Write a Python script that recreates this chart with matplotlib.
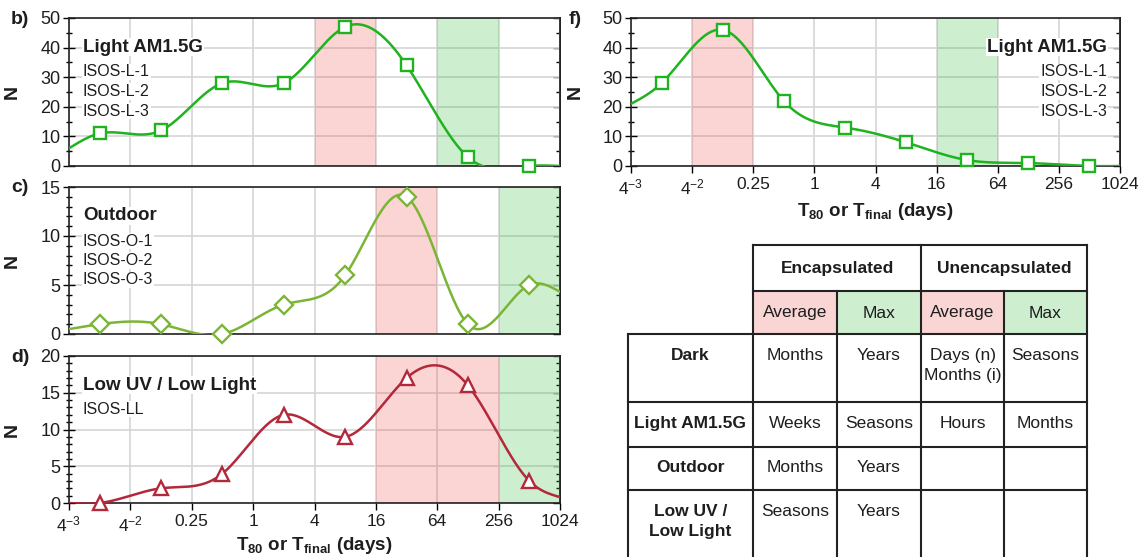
import numpy as np
import matplotlib
matplotlib.use('Agg')
import matplotlib.pyplot as plt
from matplotlib.ticker import MultipleLocator, FixedLocator, NullLocator

plt.rcParams['font.family'] = ['Liberation Sans', 'DejaVu Sans']
plt.rcParams['mathtext.fontset'] = 'custom'
plt.rcParams['mathtext.rm'] = 'Liberation Sans'
plt.rcParams['mathtext.bf'] = 'Liberation Sans:bold'
plt.rcParams['mathtext.it'] = 'Liberation Sans:italic'

# ---------------- data ----------------
bin_exp = [-2.5, -1.5, -0.5, 0.5, 1.5, 2.5, 3.5, 4.5]   # log4 of bin centres (days)
light_N = [11, 12, 28, 28, 47, 34, 3, 0]
outdoor_N = [1, 1, 0, 3, 6, 14, 1, 5]
lowuv_N = [0, 2, 4, 12, 9, 17, 16, 3]
unenc_light_N = [28, 46, 22, 13, 8, 2, 1, 0]
# curve values at the axis edges (4^-3 and 4^5)
light_edge = [6, 0]
outdoor_edge = [0.5, 4.3]
lowuv_edge = [0, 0.8]
unenc_edge = [21, 0]

xtick_exp = [-3, -2, -1, 0, 1, 2, 3, 4, 5]
xtick_labels = [r'$\mathregular{4^{-3}}$', r'$\mathregular{4^{-2}}$', '0.25', '1', '4', '16', '64', '256', '1024']

table_cols = ['Encapsulated', 'Unencapsulated']
table_sub = ['Average', 'Max', 'Average', 'Max']
table_rows = ['Dark', 'Light AM1.5G', 'Outdoor', 'Low UV /\nLow Light']
table_cells = [['Months', 'Years', 'Days (n)\nMonths (i)', 'Seasons'],
               ['Weeks', 'Seasons', 'Hours', 'Months'],
               ['Months', 'Years', '', ''],
               ['Seasons', 'Years', '', '']]

W, H = 1147, 557
fig = plt.figure(figsize=(W / 100, H / 100), dpi=100)


def rect(l, t, r, b):
    return [l / W, 1 - b / H, (r - l) / W, (b - t) / H]


def natural_spline(xk, yk, xs):
    xk = np.asarray(xk, float); yk = np.asarray(yk, float)
    n = len(xk); h = np.diff(xk)
    A = np.zeros((n, n)); rhs = np.zeros(n)
    A[0, 0] = 1; A[-1, -1] = 1
    for i in range(1, n - 1):
        A[i, i - 1] = h[i - 1]; A[i, i] = 2 * (h[i - 1] + h[i]); A[i, i + 1] = h[i]
        rhs[i] = 6 * ((yk[i + 1] - yk[i]) / h[i] - (yk[i] - yk[i - 1]) / h[i - 1])
    M = np.linalg.solve(A, rhs)
    idx = np.clip(np.searchsorted(xk, xs) - 1, 0, n - 2)
    x0, x1 = xk[idx], xk[idx + 1]; hh = x1 - x0
    return (M[idx] * (x1 - xs) ** 3 / (6 * hh) + M[idx + 1] * (xs - x0) ** 3 / (6 * hh)
            + (yk[idx] / hh - M[idx] * hh / 6) * (x1 - xs)
            + (yk[idx + 1] / hh - M[idx + 1] * hh / 6) * (xs - x0))


RED = '#e8302a'
GREEN = '#2ebd3a'
TXT = '#1e1e1e'


def panel(r, vals, edges, color, marker, ms, ymax, ymaj, ymin, red, green, showx):
    ax = fig.add_axes(rect(*r))
    ax.set_xscale('log', base=4)
    ax.set_xlim(4.0 ** -3, 4.0 ** 5)
    ax.set_ylim(0, ymax)
    ax.set_axisbelow(True)
    ax.grid(True, which='major', color='#d6d6d6', lw=1.2)
    ax.axvspan(4.0 ** red[0], 4.0 ** red[1], color=RED, alpha=0.2, lw=0, zorder=1)
    ax.axvspan(4.0 ** green[0], 4.0 ** green[1], color=GREEN, alpha=0.24, lw=0, zorder=1)
    u = np.array([-3] + bin_exp + [5], float)
    yv = [edges[0]] + list(vals) + [edges[1]]
    us = np.linspace(-3, 5, 600)
    ax.plot(4.0 ** us, natural_spline(u, yv, us), color=color, lw=1.8, zorder=3)
    ax.plot(4.0 ** np.array(bin_exp), vals, ls='none', marker=marker, ms=ms, mfc='white',
            mec=color, mew=1.7, clip_on=False, zorder=4)
    ax.xaxis.set_major_locator(FixedLocator(4.0 ** np.array(xtick_exp)))
    ax.xaxis.set_minor_locator(NullLocator())
    if showx:
        ax.set_xticklabels(xtick_labels)
        ax.tick_params(axis='x', direction='out', length=5, width=1, labelsize=12.5,
                       labelcolor=TXT, pad=3)
    else:
        ax.tick_params(axis='x', length=0, labelbottom=False)
    ax.yaxis.set_major_locator(MultipleLocator(ymaj))
    ax.yaxis.set_minor_locator(MultipleLocator(ymin))
    ax.tick_params(axis='y', which='major', direction='inout', length=8, width=1,
                   labelsize=13, labelcolor=TXT, pad=2)
    ax.tick_params(axis='y', which='minor', direction='inout', length=4, width=1)
    sec = ax.secondary_yaxis('right')
    sec.yaxis.set_major_locator(MultipleLocator(ymaj))
    sec.yaxis.set_minor_locator(MultipleLocator(ymin))
    sec.tick_params(axis='y', which='major', direction='in', length=5, width=1, labelright=False)
    sec.tick_params(axis='y', which='minor', direction='in', length=3, width=1)
    for s in ax.spines.values():
        s.set_linewidth(1.2); s.set_color('#222222')
    sec.spines['right'].set_linewidth(1.2)
    ax.set_ylabel('N', fontsize=14, fontweight='bold', color=TXT)
    ax.yaxis.set_label_coords((21 - r[0]) / (r[2] - r[0]), 0.5)
    return ax


def ax_text(x_px, y_px, s, size, bold=False, ha='left'):
    fig.text(x_px / W, 1 - y_px / H, s, fontsize=size, fontweight='bold' if bold else 'normal',
             ha=ha, va='center', color=TXT,
             bbox=dict(fc='white', ec='none', pad=0.5), zorder=10)


axb = panel((69, 18, 560, 166), light_N, light_edge, '#1fb31f', 's', 9, 50, 10, 5, (1, 2), (3, 4), False)
axc = panel((69, 187, 560, 334), outdoor_N, outdoor_edge, '#7bb536', 'D', 9, 15, 5, 1, (2, 3), (4, 5), False)
axd = panel((69, 356, 560, 503), lowuv_N, lowuv_edge, '#b3283a', '^', 10, 20, 5, 1, (2, 4), (4, 5), True)
axf = panel((631, 18, 1120, 166), unenc_light_N, unenc_edge, '#1fb31f', 's', 9, 50, 10, 5, (-2, -1), (2, 3), True)
axf.yaxis.set_label_coords((584 - 631) / (1120 - 631), 0.5)

xlab = r'$\mathbf{T_{80}\ or\ T_{final}\ (days)}$'
fig.text(314 / W, 1 - 545 / H, xlab, fontsize=13.5, color=TXT, ha='center', va='center')
fig.text(875 / W, 1 - 211 / H, xlab, fontsize=13.5, color=TXT, ha='center', va='center')

# panel annotations
ax_text(83, 47, 'Light AM1.5G', 13.5, True)
for i, s in enumerate(['ISOS-L-1', 'ISOS-L-2', 'ISOS-L-3']):
    ax_text(83, 72 + 19.5 * i, s, 11.5)
ax_text(83, 216, 'Outdoor', 13.5, True)
for i, s in enumerate(['ISOS-O-1', 'ISOS-O-2', 'ISOS-O-3']):
    ax_text(83, 241 + 19.5 * i, s, 11.5)
ax_text(83, 385, 'Low UV / Low Light', 13.5, True)
ax_text(83, 409, 'ISOS-LL', 11.5)
ax_text(1107, 47, 'Light AM1.5G', 13.5, True, ha='right')
for i, s in enumerate(['ISOS-L-1', 'ISOS-L-2', 'ISOS-L-3']):
    ax_text(1107, 72 + 19.5 * i, s, 11.5, ha='right')

for lab, x, y in [('b)', 11, 20), ('c)', 11, 188), ('d)', 11, 358), ('f)', 569, 20)]:
    fig.text(x / W, 1 - y / H, lab, fontsize=14, fontweight='bold', color=TXT, ha='left', va='center')

# ---------------- table ----------------
tab = fig.add_axes([0, 0, 1, 1], zorder=5)
tab.set_xlim(0, W); tab.set_ylim(H, 0); tab.axis('off')
xs = [628, 753, 837, 921, 1004, 1087]
ys = [245, 291, 334, 402, 447, 490, 575]
fills = ['#f9d5d4', '#cdefcf', '#f9d5d4', '#cdefcf']
for j in range(4):
    tab.fill_between([xs[j + 1], xs[j + 2]], ys[1], ys[2], color=fills[j], lw=0)
lw = 1.5
tab.plot([xs[1], xs[5]], [ys[0], ys[0]], color='#222', lw=lw)
tab.plot([xs[1], xs[5]], [ys[1], ys[1]], color='#222', lw=lw)
for yy in ys[2:6]:
    tab.plot([xs[0], xs[5]], [yy, yy], color='#222', lw=lw)
tab.plot([xs[0], xs[0]], [ys[2], ys[6]], color='#222', lw=lw)
for k in [1, 3, 5]:
    tab.plot([xs[k], xs[k]], [ys[0], ys[6]], color='#222', lw=lw)
for k in [2, 4]:
    tab.plot([xs[k], xs[k]], [ys[1], ys[6]], color='#222', lw=lw)
TS = 12.5
tab.text((xs[1] + xs[3]) / 2, 268, table_cols[0], fontsize=TS, fontweight='bold', ha='center', va='center', color=TXT)
tab.text((xs[3] + xs[5]) / 2, 268, table_cols[1], fontsize=TS, fontweight='bold', ha='center', va='center', color=TXT)
for j, s in enumerate(table_sub):
    tab.text((xs[j + 1] + xs[j + 2]) / 2, 313, s, fontsize=TS, ha='center', va='center', color=TXT)
row_y = [357, 425, 469, 513]
for i, rname in enumerate(table_rows):
    tab.text((xs[0] + xs[1]) / 2, row_y[i] - 9, rname, fontsize=TS, fontweight='bold', ha='center',
             va='top', color=TXT, linespacing=1.45)
    for j, c in enumerate(table_cells[i]):
        if c:
            tab.text((xs[j + 1] + xs[j + 2]) / 2, row_y[i] - 9, c, fontsize=TS, ha='center',
                     va='top', color=TXT, linespacing=1.45)

fig.savefig('out.png', dpi=100)
